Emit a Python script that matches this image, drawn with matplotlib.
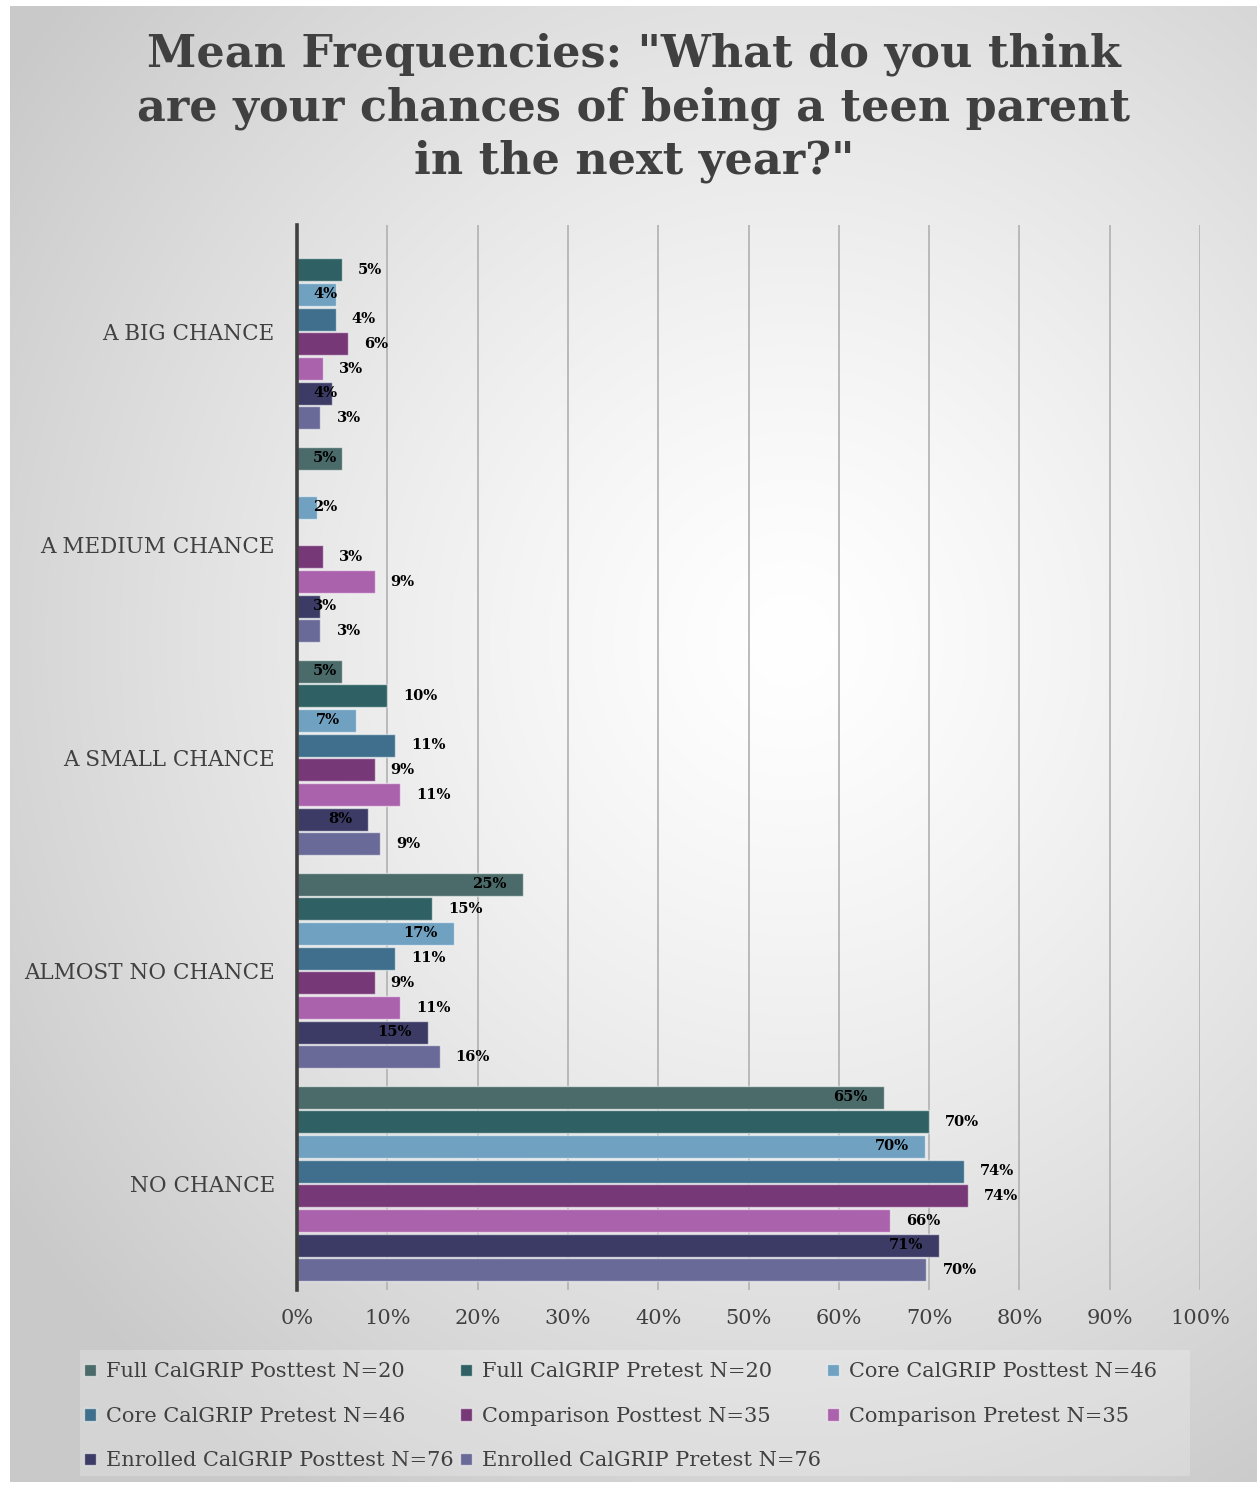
import numpy as np
import matplotlib.pyplot as plt
from matplotlib.patches import Rectangle

# data (percent), categories listed top -> bottom
categories = ["A BIG CHANCE", "A MEDIUM CHANCE", "A SMALL CHANCE", "ALMOST NO CHANCE", "NO CHANCE"]
series_names = [
    "Full CalGRIP Posttest N=20", "Full CalGRIP Pretest N=20",
    "Core CalGRIP Posttest N=46", "Core CalGRIP Pretest N=46",
    "Comparison Posttest N=35", "Comparison Pretest N=35",
    "Enrolled CalGRIP Posttest N=76", "Enrolled CalGRIP Pretest N=76",
]
full_post = [0, 5.0, 5.0, 25.0, 65.0]
full_pre = [5.0, 0, 10.0, 15.0, 70.0]
core_post = [4.3, 2.2, 6.5, 17.4, 69.6]
core_pre = [4.3, 0, 10.9, 10.9, 73.9]
comp_post = [5.7, 2.9, 8.6, 8.6, 74.3]
comp_pre = [2.9, 8.6, 11.4, 11.4, 65.7]
enr_post = [3.9, 2.6, 7.9, 14.5, 71.1]
enr_pre = [2.6, 2.6, 9.2, 15.8, 69.7]
x_ticks = [0, 10, 20, 30, 40, 50, 60, 70, 80, 90, 100]

series = [full_post, full_pre, core_post, core_pre, comp_post, comp_pre, enr_post, enr_pre]
colors = ["#4a6b6a", "#2f6064", "#70a1c1", "#3f6f8c", "#773878", "#ab62ac", "#3c3b65", "#6a6a98"]
inside_label = [True, False, True, False, False, False, True, False]

TXT = "#404040"
SERIF = ["DejaVu Serif"]

fig = plt.figure(figsize=(12.57, 14.86), dpi=100)
W, H = 1257, 1486

# radial grey -> white background panel
bg = fig.add_axes([0, 0, 1, 1], zorder=-10)
yy, xx = np.mgrid[0:H, 0:W]
r = np.hypot(xx - 790, (yy - 640) / 1.05)
shade = 1 - 0.21 * np.clip(r / 950, 0, 1) ** 1.3
img = np.dstack([shade, shade, shade])
img[:, :10] = 1
img[:6, :] = 1
img[1482:, :] = 1
bg.imshow(img, extent=[0, W, H, 0], aspect="auto", interpolation="bilinear")
bg.set_xlim(0, W)
bg.set_ylim(H, 0)
bg.axis("off")
# legend backing panel
bg.add_patch(Rectangle((80, 1350), 1110, 126, facecolor=(1, 1, 1, 0.22), edgecolor="none"))

ax = fig.add_axes([297 / W, 1 - 1290 / H, 903 / W, 1065 / H])
ax.set_facecolor("none")

n = len(series)
slot = 0.116
bar_h = 0.108
y_base = np.arange(len(categories))
px_per_pct = 903 / 100
off = 16 / px_per_pct

inside_texts = []
for i, (vals, col) in enumerate(zip(series, colors)):
    ypos = y_base + (i - (n - 1) / 2) * slot
    ax.barh(ypos, vals, height=bar_h, color=col, edgecolor=(1, 1, 1, 0.55),
            linewidth=1.0, zorder=3, label=series_names[i])
    for y, v in zip(ypos, vals):
        if v <= 0:
            continue
        lab = f"{int(np.floor(v + 0.5))}%"
        if inside_label[i]:
            t = ax.text(v - off, y, lab, ha="right", va="center", fontsize=10.5,
                        fontweight="bold", family=SERIF, color="black", zorder=4)
            inside_texts.append(t)
        else:
            ax.text(v + off, y, lab, ha="left", va="center", fontsize=10.5,
                    fontweight="bold", family=SERIF, color="black", zorder=4)

ax.set_ylim(len(categories) - 0.5, -0.5)
ax.set_xlim(0, 100)
ax.set_yticks(y_base)
ax.set_yticklabels(categories, family=SERIF, fontsize=15.5, color=TXT)
ax.set_xticks(x_ticks)
ax.set_xticklabels([f"{t}%" for t in x_ticks], family=SERIF, fontsize=15, color=TXT)
ax.tick_params(axis="y", length=0, pad=16)
ax.tick_params(axis="x", length=0, pad=14)
ax.grid(axis="x", color="#b5b5b5", linewidth=1.3, zorder=1)
for s in ["top", "right", "bottom"]:
    ax.spines[s].set_visible(False)
ax.spines["left"].set_color(TXT)
ax.spines["left"].set_linewidth(2.6)
ax.spines["left"].set_zorder(5)

# inside-end labels that would run past the axis start get pinned near the axis
fig.canvas.draw()
rend = fig.canvas.get_renderer()
x_axis_px = ax.transData.transform((0, 0))[0]
for t in inside_texts:
    bb = t.get_window_extent(rend)
    if bb.x0 < x_axis_px + 16:
        t.set_ha("left")
        t.set_x(off)

fig.text(634 / W, 1 - 108 / H,
         'Mean Frequencies: "What do you think\nare your chances of being a teen parent\nin the next year?"',
         ha="center", va="center", fontsize=32, fontweight="bold", family=SERIF,
         color=TXT, linespacing=1.3)

# legend: row-major order in 3 columns
handles, labels = ax.get_legend_handles_labels()
order = [0, 3, 6, 1, 4, 7, 2, 5]
leg = fig.legend([handles[k] for k in order], [labels[k] for k in order],
                 ncols=3, loc="upper left",
                 bbox_to_anchor=(76 / W, 1 - 1354 / H),
                 prop={"family": SERIF, "size": 15},
                 frameon=False, handlelength=0.55, handleheight=0.55,
                 handletextpad=0.5, labelspacing=1.22, borderaxespad=0,
                 borderpad=0.4, columnspacing=0.3)
for t in leg.get_texts():
    t.set_color(TXT)

fig.savefig("out.png", dpi=100)
